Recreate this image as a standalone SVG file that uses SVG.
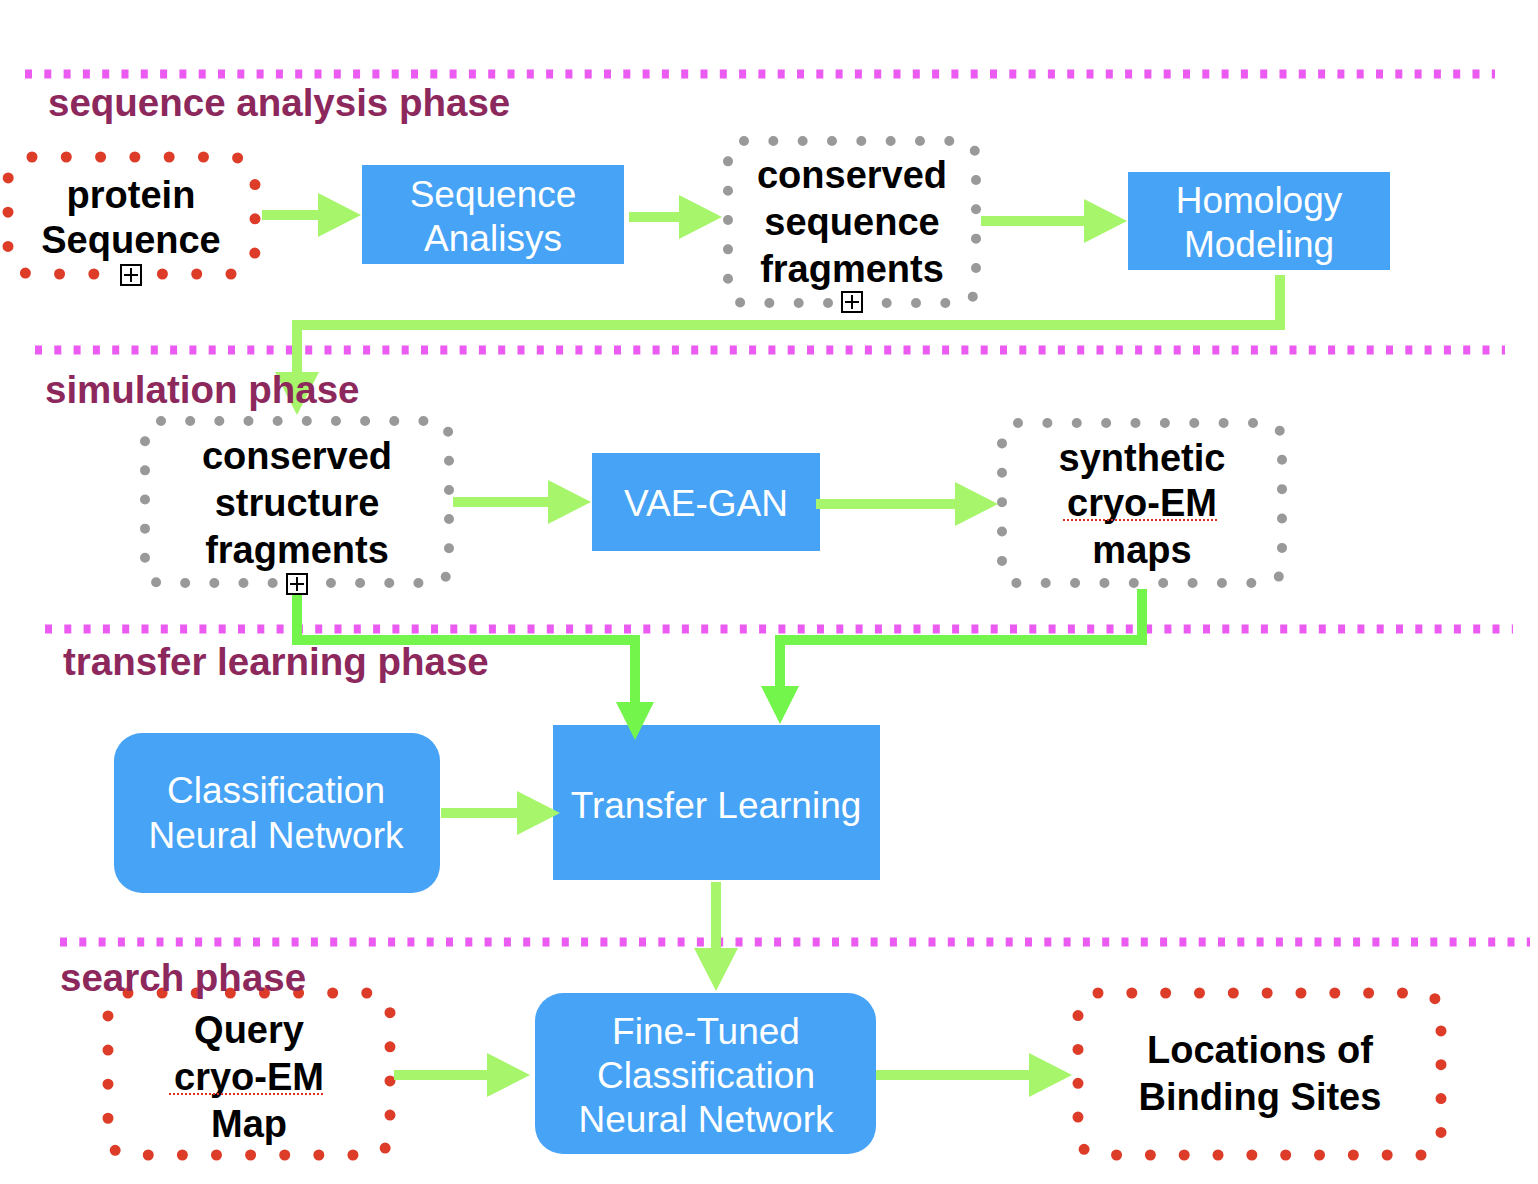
<svg xmlns="http://www.w3.org/2000/svg" width="1538" height="1184" viewBox="0 0 1538 1184">
<style>
.phase-line{stroke:#EB5BF2;stroke-width:9;stroke-dasharray:7 12.3;fill:none}
.phase{font-family:"Liberation Sans",Arial,Helvetica,sans-serif;font-weight:bold;font-size:38.5px;fill:#8C285C}
.blue{fill:#46A3F6}
.wt{font-family:"Liberation Sans",Arial,Helvetica,sans-serif;font-size:37px;fill:#ffffff;text-anchor:middle}
.bt{font-family:"Liberation Sans",Arial,Helvetica,sans-serif;font-weight:bold;font-size:38px;fill:#000000;text-anchor:middle}
.reddot{fill:none;stroke:#DD3C29;stroke-width:11;stroke-linecap:round;stroke-dasharray:0 1}
.graydot{fill:none;stroke:#999999;stroke-width:10;stroke-linecap:round;stroke-dasharray:0 1}
.conn{fill:none;stroke:#A6F56A;stroke-width:10;stroke-linejoin:miter}
.conn2{fill:none;stroke:#74F54B;stroke-width:10;stroke-linejoin:miter}
.spell{stroke:#E03020;stroke-width:2;stroke-dasharray:2 2;fill:none}
.plus rect{fill:#ffffff;stroke:#000000;stroke-width:2}
.plus path{stroke:#000000;stroke-width:2;fill:none}
</style>
<defs>
<marker id="ah" markerUnits="userSpaceOnUse" markerWidth="44" markerHeight="46" refX="0" refY="22" orient="auto" overflow="visible">
<path d="M0,0 L43,22 L0,44 Z" fill="#A6F56A"/>
</marker>
<marker id="ah2" markerUnits="userSpaceOnUse" markerWidth="40" markerHeight="40" refX="0" refY="19" orient="auto" overflow="visible">
<path d="M0,0 L38,19 L0,38 Z" fill="#74F54B"/>
</marker>
</defs>

<g id="phase-lines">
<line class="phase-line" x1="25" y1="74" x2="1495" y2="74"/>
<line class="phase-line" x1="35" y1="350" x2="1505" y2="350"/>
<line class="phase-line" x1="45" y1="629" x2="1513" y2="629"/>
<line class="phase-line" x1="60" y1="942" x2="1530" y2="942"/>
</g>

<g id="protein-sequence">
<rect class="reddot" x="8" y="157" width="247" height="117" rx="24" pathLength="20"/>
<text class="bt" x="131" y="208">protein</text>
<text class="bt" x="131" y="253">Sequence</text>
<g class="plus"><rect x="121" y="265" width="20" height="20"/><path d="M124,275 H138 M131,268 V282"/></g>
</g>

<g id="sequence-analisys">
<rect class="blue" x="362" y="165" width="262" height="99"/>
<text class="wt" x="493" y="207">Sequence</text>
<text class="wt" x="493" y="251">Analisys</text>
</g>

<g id="conserved-sequence-fragments">
<rect class="graydot" x="728" y="141" width="248" height="162" rx="16" pathLength="27"/>
<text class="bt" x="852" y="188">conserved</text>
<text class="bt" x="852" y="235">sequence</text>
<text class="bt" x="852" y="282">fragments</text>
<g class="plus"><rect x="842" y="292" width="20" height="20"/><path d="M845,302 H859 M852,295 V309"/></g>
</g>

<g id="homology-modeling">
<rect class="blue" x="1128" y="172" width="262" height="98"/>
<text class="wt" x="1259" y="213">Homology</text>
<text class="wt" x="1259" y="257">Modeling</text>
</g>

<g id="conserved-structure-fragments">
<rect class="graydot" x="145" y="421" width="304" height="162" rx="16" pathLength="31"/>
<text class="bt" x="297" y="469">conserved</text>
<text class="bt" x="297" y="516">structure</text>
<text class="bt" x="297" y="563">fragments</text>
<g class="plus"><rect x="287" y="574" width="20" height="20"/><path d="M290,584 H304 M297,577 V591"/></g>
</g>

<g id="vae-gan">
<rect class="blue" x="592" y="453" width="228" height="98"/>
<text class="wt" x="706" y="516">VAE-GAN</text>
</g>

<g id="synthetic-maps">
<rect class="graydot" x="1002" y="423" width="280" height="160" rx="16" pathLength="29"/>
<text class="bt" x="1142" y="471">synthetic</text>
<text class="bt" x="1142" y="516">cryo-EM</text>
<line class="spell" x1="1063" y1="520" x2="1218" y2="520"/>
<text class="bt" x="1142" y="563">maps</text>
</g>

<g id="classification-nn">
<rect class="blue" x="114" y="733" width="326" height="160" rx="28"/>
<text class="wt" x="276" y="803">Classification</text>
<text class="wt" x="276" y="848">Neural Network</text>
</g>

<g id="transfer-learning">
<rect class="blue" x="553" y="725" width="327" height="155"/>
<text class="wt" x="716" y="818">Transfer Learning</text>
</g>

<g id="query-map">
<rect class="reddot" x="108" y="993" width="282" height="162" rx="20" pathLength="25"/>
<text class="bt" x="249" y="1043">Query</text>
<text class="bt" x="249" y="1090">cryo-EM</text>
<line class="spell" x1="169" y1="1094" x2="323" y2="1094"/>
<text class="bt" x="249" y="1137">Map</text>
</g>

<g id="fine-tuned-nn">
<rect class="blue" x="535" y="993" width="341" height="161" rx="28"/>
<text class="wt" x="706" y="1044">Fine-Tuned</text>
<text class="wt" x="706" y="1088">Classification</text>
<text class="wt" x="706" y="1132">Neural Network</text>
</g>

<g id="binding-sites">
<rect class="reddot" x="1078" y="993" width="363" height="162" rx="20" pathLength="30"/>
<text class="bt" x="1260" y="1063">Locations of</text>
<text class="bt" x="1260" y="1110">Binding Sites</text>
</g>

<g id="connectors">
<path class="conn" d="M262,215 H318" marker-end="url(#ah)"/>
<path class="conn" d="M629,217 H679" marker-end="url(#ah)"/>
<path class="conn" d="M981,221 H1084" marker-end="url(#ah)"/>
<path class="conn" d="M1280,275 V325 H297 V372" marker-end="url(#ah)"/>
<path class="conn" d="M453,502 H548" marker-end="url(#ah)"/>
<path class="conn" d="M816,504 H955" marker-end="url(#ah)"/>
<path class="conn2" d="M297,595 V640 H635 V702" marker-end="url(#ah2)"/>
<path class="conn2" d="M1142,589 V640 H780 V686" marker-end="url(#ah2)"/>
<path class="conn" d="M441,813 H517" marker-end="url(#ah)"/>
<path class="conn" d="M716,882 V948" marker-end="url(#ah)"/>
<path class="conn" d="M394,1075 H487" marker-end="url(#ah)"/>
<path class="conn" d="M876,1075 H1029" marker-end="url(#ah)"/>
</g>

<g id="phase-labels">
<text class="phase" x="48" y="116">sequence analysis phase</text>
<text class="phase" x="45" y="403">simulation phase</text>
<text class="phase" x="63" y="675">transfer learning phase</text>
<text class="phase" x="60" y="991">search phase</text>
</g>
</svg>
